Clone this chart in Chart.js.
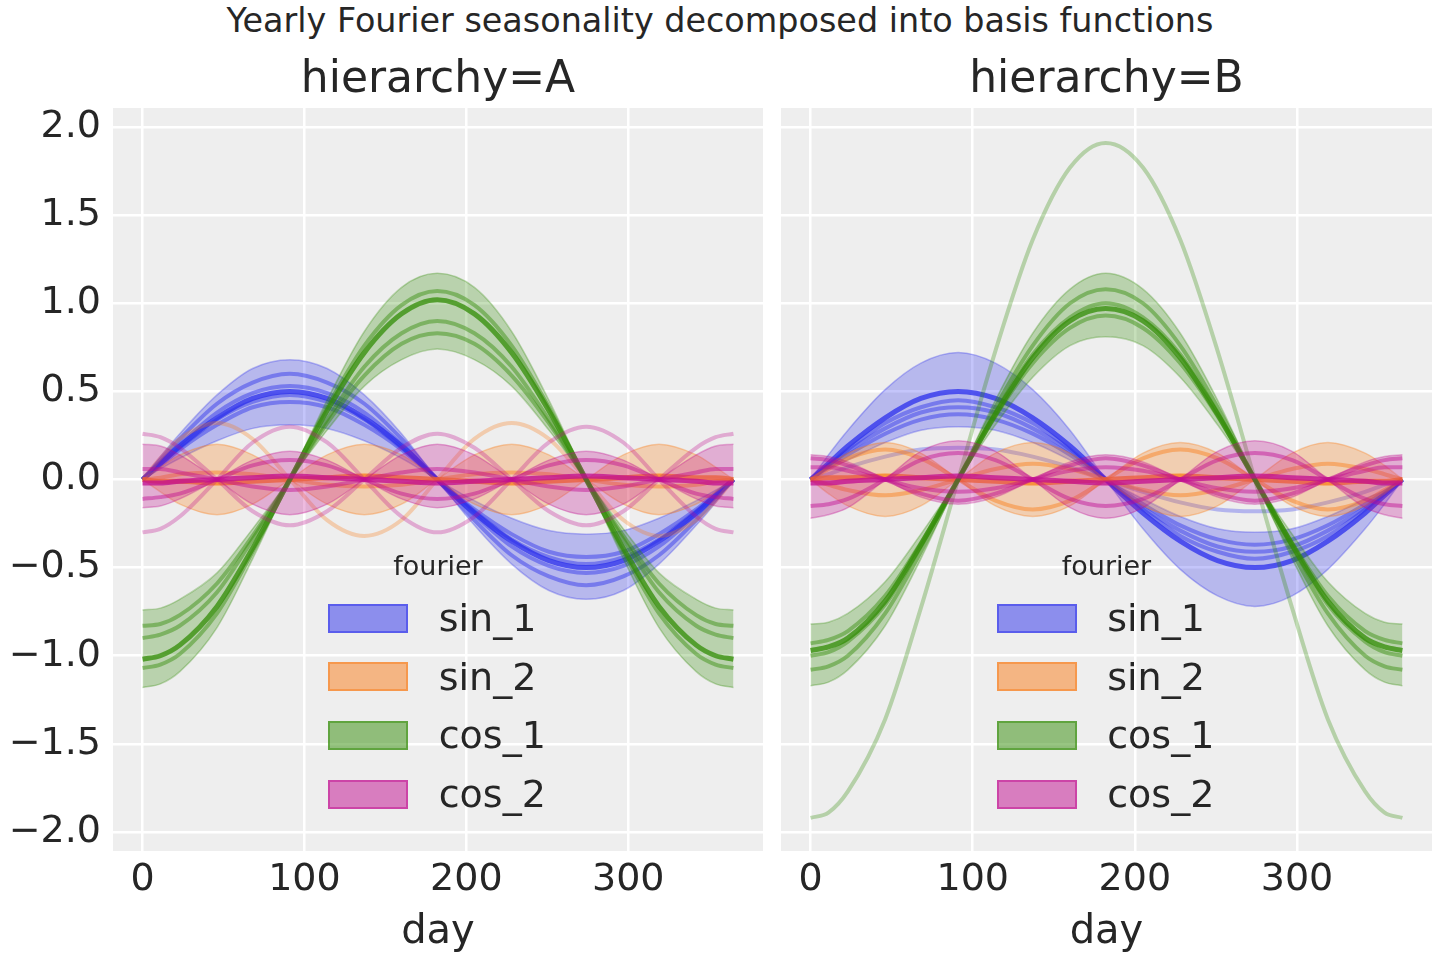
<!DOCTYPE html>
<html>
<head>
<meta charset="utf-8">
<script src="https://cdn.jsdelivr.net/npm/chart.js@4.4.0/dist/chart.umd.min.js"></script>
<style>
  body { margin: 0; width: 1440px; height: 960px; background: #fff; position: relative; overflow: hidden;
         font-family: "DejaVu Sans", sans-serif; color: #262626; }
  .txt { position: absolute; white-space: nowrap; line-height: 1.2; }
  .panel { position: absolute; top: 100px; height: 860px; }
  .patch { position: absolute; width: 80px; height: 29px; box-sizing: border-box; border: 2px solid; }
</style>
</head>
<body>
<div class="panel" style="left:0;width:770px"><canvas id="chartA" width="770" height="860"></canvas></div>
<div class="panel" style="left:770px;width:670px"><canvas id="chartB" width="670" height="860"></canvas></div>
<div id="texts"></div>
<script>
// Sample days along the year
var days = [0, 11, 23, 46, 68, 91, 114, 137, 160, 182, 205, 228, 251, 274, 297, 319, 342, 354, 365];
var xTicks = [0, 100, 200, 300];
var yTicks = [-2, -1.5, -1, -0.5, 0, 0.5, 1, 1.5, 2];
var components = ['sin_1', 'sin_2', 'cos_1', 'cos_2'];
var colors = ['#2a2eec', '#fa7c17', '#328c06', '#c10c90'];

// ---- hierarchy=A ----
var sin1OuterA = [0, .13, .26, .48, .63, .68, .63, .48, .26, 0, -.26, -.48, -.63, -.68, -.63, -.48, -.26, -.13, 0];
var sin1InnerA = [0, .06, .12, .22, .29, .31, .29, .22, .12, 0, -.12, -.22, -.29, -.31, -.29, -.22, -.12, -.06, 0];
var sin1LinesA = [
  [0, .11, .23, .43, .55, .60, .55, .43, .23, 0, -.23, -.43, -.55, -.60, -.55, -.43, -.23, -.11, 0],
  [0, .10, .20, .38, .49, .53, .49, .38, .20, 0, -.20, -.38, -.49, -.53, -.49, -.38, -.20, -.10, 0],
  [0, .09, .18, .34, .44, .48, .44, .34, .18, 0, -.18, -.34, -.44, -.48, -.44, -.34, -.18, -.09, 0],
  [0, .08, .17, .31, .41, .44, .41, .31, .17, 0, -.17, -.31, -.41, -.44, -.41, -.31, -.17, -.08, 0]
];
var sin1MainA = [[0, .09, .19, .35, .46, .50, .46, .35, .19, 0, -.19, -.35, -.46, -.50, -.46, -.35, -.19, -.09, 0]];

var sin2UpperA = [0, .07, .14, .20, .14, 0, -.14, -.20, -.14, 0, .14, .20, .14, 0, -.14, -.20, -.14, -.07, 0];
var sin2LowerA = [0, -.07, -.14, -.20, -.14, 0, .14, .20, .14, 0, -.14, -.20, -.14, 0, .14, .20, .14, .07, 0];
var sin2LinesA = [
  [0, .01, .03, .04, .03, 0, -.03, -.04, -.03, 0, .03, .04, .03, 0, -.03, -.04, -.03, -.01, 0]
];
var sin2MainA = [
  [0, -.01, -.01, -.02, -.01, 0, .01, .02, .01, 0, -.01, -.02, -.01, 0, .01, .02, .01, .01, 0]
];
var sin2FaintA = [[0, .12, .23, .32, .23, 0, -.23, -.32, -.23, 0, .23, .32, .23, 0, -.23, -.32, -.23, -.12, 0]];

var cos1OuterA = [-1.18, -1.16, -1.09, -.84, -.45, 0, .45, .84, 1.09, 1.17, 1.09, .84, .45, 0, -.45, -.84, -1.09, -1.16, -1.18];
var cos1InnerA = [-.74, -.73, -.68, -.53, -.28, 0, .28, .53, .68, .74, .68, .53, .28, 0, -.28, -.53, -.68, -.73, -.74];
var cos1LinesA = [
  [-.83, -.82, -.77, -.59, -.32, 0, .32, .59, .77, .83, .77, .59, .32, 0, -.32, -.59, -.77, -.82, -.83],
  [-.90, -.88, -.83, -.64, -.34, 0, .34, .64, .83, .90, .83, .64, .34, 0, -.34, -.64, -.83, -.88, -.90],
  [-1.07, -1.05, -.99, -.76, -.41, 0, .41, .76, .99, 1.07, .99, .76, .41, 0, -.41, -.76, -.99, -1.05, -1.07]
];
var cos1MainA = [
  [-1.02, -1.0, -.94, -.72, -.39, 0, .39, .72, .94, 1.02, .94, .72, .39, 0, -.39, -.72, -.94, -1.0, -1.02]
];

var cos2UpperA = [.20, .19, .14, 0, -.14, -.20, -.14, 0, .14, .20, .14, 0, -.14, -.20, -.14, 0, .14, .19, .20];
var cos2LowerA = [-.16, -.15, -.11, 0, .11, .16, .11, 0, -.11, -.16, -.11, 0, .11, .16, .11, 0, -.11, -.15, -.16];
var cos2LinesA = [
  [-.11, -.10, -.08, 0, .08, .11, .08, 0, -.08, -.11, -.08, 0, .08, .11, .08, 0, -.08, -.10, -.11],
  [.06, .06, .04, 0, -.04, -.06, -.04, 0, .04, .06, .04, 0, -.04, -.06, -.04, 0, .04, .06, .06]
];
var cos2MainA = [
  [-.02, -.02, -.01, 0, .01, .02, .01, 0, -.01, -.02, -.01, 0, .01, .02, .01, 0, -.01, -.02, -.02]
];
var cos2FaintA = [
  [.26, .24, .18, 0, -.18, -.26, -.18, 0, .18, .26, .18, 0, -.18, -.26, -.18, 0, .18, .24, .26],
  [-.30, -.28, -.21, 0, .21, .30, .21, 0, -.21, -.30, -.21, 0, .21, .30, .21, 0, -.21, -.28, -.30]
];

// ---- hierarchy=B ----
var sin1OuterB = [0, .14, .28, .51, .66, .72, .66, .51, .28, 0, -.28, -.51, -.66, -.72, -.66, -.51, -.28, -.14, 0];
var sin1InnerB = [0, .06, .11, .21, .28, .30, .28, .21, .11, 0, -.11, -.21, -.28, -.30, -.28, -.21, -.11, -.06, 0];
var sin1LinesB = [
  [0, .08, .17, .32, .41, .45, .41, .32, .17, 0, -.17, -.32, -.41, -.45, -.41, -.32, -.17, -.08, 0],
  [0, .08, .16, .29, .38, .41, .38, .29, .16, 0, -.16, -.29, -.38, -.41, -.38, -.29, -.16, -.08, 0],
  [0, .07, .14, .26, .34, .37, .34, .26, .14, 0, -.14, -.26, -.34, -.37, -.34, -.26, -.14, -.07, 0]
];
var sin1MainB = [[0, .09, .19, .35, .46, .50, .46, .35, .19, 0, -.19, -.35, -.46, -.50, -.46, -.35, -.19, -.09, 0]];
var sin1FaintB = [[0, .03, .07, .13, .17, .18, .17, .13, .07, 0, -.07, -.13, -.17, -.18, -.17, -.13, -.07, -.03, 0]];

var sin2UpperB = [0, .08, .15, .21, .15, 0, -.15, -.21, -.15, 0, .15, .21, .15, 0, -.15, -.21, -.15, -.08, 0];
var sin2LowerB = [0, -.08, -.15, -.21, -.15, 0, .15, .21, .15, 0, -.15, -.21, -.15, 0, .15, .21, .15, .08, 0];
var sin2LinesB = [
  [0, .06, .12, .17, .12, 0, -.12, -.17, -.12, 0, .12, .17, .12, 0, -.12, -.17, -.12, -.06, 0],
  [0, -.03, -.06, -.09, -.06, 0, .06, .09, .06, 0, -.06, -.09, -.06, 0, .06, .09, .06, .03, 0]
];
var sin2MainB = [
  [0, .01, .01, .02, .01, 0, -.01, -.02, -.01, 0, .01, .02, .01, 0, -.01, -.02, -.01, -.01, 0]
];

var cos1OuterB = [-1.17, -1.15, -1.08, -.83, -.45, 0, .45, .83, 1.08, 1.17, 1.08, .83, .45, 0, -.45, -.83, -1.08, -1.15, -1.17];
var cos1InnerB = [-.82, -.81, -.76, -.58, -.31, 0, .31, .58, .76, .81, .76, .58, .31, 0, -.31, -.58, -.76, -.81, -.82];
var cos1LinesB = [
  [-.93, -.91, -.86, -.66, -.36, 0, .36, .66, .86, .93, .86, .66, .36, 0, -.36, -.66, -.86, -.91, -.93],
  [-1.0, -.98, -.92, -.71, -.38, 0, .38, .71, .92, 1.0, .92, .71, .38, 0, -.38, -.71, -.92, -.98, -1.0],
  [-1.08, -1.06, -1.0, -.76, -.41, 0, .41, .76, 1.0, 1.08, 1.0, .76, .41, 0, -.41, -.76, -1.0, -1.06, -1.08]
];
var cos1MainB = [
  [-.97, -.95, -.90, -.69, -.37, 0, .37, .69, .90, .97, .90, .69, .37, 0, -.37, -.69, -.90, -.95, -.97]
];
var cos1FaintB = [[-1.92, -1.89, -1.77, -1.36, -.73, 0, .73, 1.36, 1.77, 1.91, 1.77, 1.36, .73, 0, -.73, -1.36, -1.77, -1.89, -1.92]];

var cos2UpperB = [.14, .13, .10, 0, -.10, -.14, -.10, 0, .10, .14, .10, 0, -.10, -.14, -.10, 0, .10, .13, .14];
var cos2LowerB = [-.22, -.20, -.16, 0, .16, .22, .16, 0, -.16, -.22, -.16, 0, .16, .22, .16, 0, -.16, -.20, -.22];
var cos2LinesB = [
  [.12, .11, .08, 0, -.08, -.12, -.08, 0, .08, .12, .08, 0, -.08, -.12, -.08, 0, .08, .11, .12],
  [.07, .07, .05, 0, -.05, -.07, -.05, 0, .05, .07, .05, 0, -.05, -.07, -.05, 0, .05, .07, .07],
  [-.15, -.14, -.11, 0, .11, .15, .11, 0, -.11, -.15, -.11, 0, .11, .15, .11, 0, -.11, -.14, -.15]
];
var cos2MainB = [
  [-.02, -.02, -.01, 0, .01, .02, .01, 0, -.01, -.02, -.01, 0, .01, .02, .01, 0, -.01, -.02, -.02]
];

var panelA = [
  {edges: [sin1OuterA, sin1InnerA], lines: sin1LinesA, main: sin1MainA},
  {edges: [sin2UpperA, sin2LowerA], lines: sin2LinesA, main: sin2MainA, faint: sin2FaintA},
  {edges: [cos1OuterA, cos1InnerA], lines: cos1LinesA, main: cos1MainA},
  {edges: [cos2UpperA, cos2LowerA], lines: cos2LinesA, main: cos2MainA, faint: cos2FaintA}
];
var panelB = [
  {edges: [sin1OuterB, sin1InnerB], lines: sin1LinesB, main: sin1MainB, faint: sin1FaintB},
  {edges: [sin2UpperB, sin2LowerB], lines: sin2LinesB, main: sin2MainB},
  {edges: [cos1OuterB, cos1InnerB], lines: cos1LinesB, main: cos1MainB, faint: cos1FaintB},
  {edges: [cos2UpperB, cos2LowerB], lines: cos2LinesB, main: cos2MainB}
];

var FONT = "'DejaVu Sans', sans-serif";
Chart.defaults.font.family = FONT;
Chart.defaults.color = '#262626';

function rgba(hex, a) {
  var n = parseInt(hex.slice(1), 16);
  return 'rgba(' + (n >> 16) + ',' + ((n >> 8) & 255) + ',' + (n & 255) + ',' + a + ')';
}

function pts(vals) {
  return days.map(function(d, i) { return {x: d, y: vals[i]}; });
}

// later datasets are drawn on top (order goes down as we add)
function buildDatasets(panel) {
  var sets = [];
  function add(vals, color, width, extra) {
    var ds = {
      data: pts(vals),
      borderColor: color,
      borderWidth: width,
      pointRadius: 0,
      cubicInterpolationMode: 'monotone',
      fill: false,
      order: -sets.length
    };
    if (extra) Object.assign(ds, extra);
    sets.push(ds);
    return sets.length - 1;
  }
  panel.forEach(function(comp, k) {
    var col = colors[k];
    var inner = add(comp.edges[1], rgba(col, 0.3), 1.5);
    add(comp.edges[0], rgba(col, 0.3), 1.5, {fill: inner, backgroundColor: rgba(col, 0.28)});
    (comp.faint || []).forEach(function(v) { add(v, rgba(col, 0.3), 4); });
    comp.lines.forEach(function(v) { add(v, rgba(col, 0.45), 4); });
    (comp.main || []).forEach(function(v) { add(v, rgba(col, 0.75), 5); });
  });
  return sets;
}

var plotBg = {
  id: 'plotBg',
  beforeDraw: function(chart) {
    var a = chart.chartArea, ctx = chart.ctx;
    ctx.save();
    ctx.fillStyle = '#eeeeee';
    ctx.fillRect(a.left, a.top, a.right - a.left, a.bottom - a.top);
    ctx.restore();
  }
};

function makeChart(id, panel, showY, yWidth, padRight) {
  return new Chart(document.getElementById(id), {
    type: 'line',
    data: {datasets: buildDatasets(panel)},
    plugins: [plotBg],
    options: {
      responsive: false,
      animation: false,
      devicePixelRatio: 1,
      layout: {padding: {top: 8, right: padRight, left: 0, bottom: 0}},
      plugins: {legend: {display: false}, tooltip: {enabled: false}},
      scales: {
        x: {
          type: 'linear',
          min: -18.25,
          max: 383.25,
          afterBuildTicks: function(s) { s.ticks = xTicks.map(function(v) { return {value: v}; }); },
          afterFit: function(s) { s.height = 109; s.paddingLeft = 0; s.paddingRight = 0; },
          ticks: {font: {size: 38}, padding: 6, maxRotation: 0, autoSkip: false},
          grid: {color: '#ffffff', lineWidth: 2.5, drawTicks: false},
          border: {display: false},
          title: {display: true, text: 'day', font: {size: 40}, padding: {top: 0, bottom: 3}}
        },
        y: {
          type: 'linear',
          min: -2.108,
          max: 2.108,
          afterBuildTicks: function(s) { s.ticks = yTicks.map(function(v) { return {value: v}; }); },
          afterFit: function(s) { s.width = yWidth; s.paddingTop = 0; s.paddingBottom = 0; },
          ticks: {
            display: showY,
            font: {size: 38},
            padding: 12,
            callback: function(v) { return (v < 0 ? '\u2212' : '') + Math.abs(v).toFixed(1); }
          },
          grid: {color: '#ffffff', lineWidth: 2.5, drawTicks: false},
          border: {display: false}
        }
      }
    }
  });
}

makeChart('chartA', panelA, true, 113, 7);
makeChart('chartB', panelB, false, 11, 8);

// titles and legends as html text
var texts = document.getElementById('texts');
function placeText(str, x, baseline, size, align) {
  var d = document.createElement('div');
  d.className = 'txt';
  d.textContent = str;
  d.style.fontSize = size + 'px';
  d.style.top = (baseline - 0.946 * size) + 'px';
  if (align === 'center') {
    d.style.left = (x - 500) + 'px';
    d.style.width = '1000px';
    d.style.textAlign = 'center';
  } else {
    d.style.left = x + 'px';
  }
  texts.appendChild(d);
}

placeText('Yearly Fourier seasonality decomposed into basis functions', 720, 32.5, 33.4, 'center');
[['hierarchy=A', 438], ['hierarchy=B', 1106.5]].forEach(function(p) {
  placeText(p[0], p[1], 93, 44, 'center');
  placeText('fourier', p[1], 575.5, 27, 'center');
  components.forEach(function(name, k) {
    var top = 603.5 + k * 58.7;
    var patch = document.createElement('div');
    patch.className = 'patch';
    patch.style.left = (p[1] - 110) + 'px';
    patch.style.top = top + 'px';
    patch.style.background = rgba(colors[k], 0.5);
    patch.style.borderColor = rgba(colors[k], 0.5);
    texts.appendChild(patch);
    placeText(name, p[1] + 0.7, top + 28.3, 38, 'left');
  });
});
</script>
</body>
</html>
